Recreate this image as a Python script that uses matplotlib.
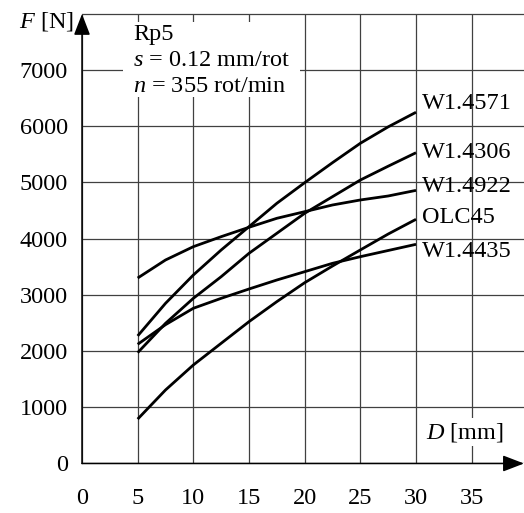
import matplotlib
matplotlib.use("Agg")
import matplotlib.pyplot as plt
from matplotlib.patches import Rectangle

plt.rcParams["font.family"] = ["Liberation Serif", "DejaVu Serif"]
plt.rcParams["mathtext.fontset"] = "custom"
plt.rcParams["mathtext.rm"] = "Liberation Serif"
plt.rcParams["mathtext.it"] = "Liberation Serif:italic"

# -- data --
D = [5, 7.5, 10, 12.5, 15, 17.5, 20, 22.5, 25, 27.5, 30]
F_w14571 = [2270, 2850, 3354, 3799, 4214, 4630, 4997, 5353, 5698, 5990, 6250]
F_w14306 = [1972, 2494, 2939, 3324, 3740, 4096, 4452, 4748, 5044, 5290, 5530]
F_w14922 = [3300, 3621, 3858, 4036, 4203, 4363, 4481, 4600, 4689, 4760, 4860]
F_olc45 = [790, 1308, 1753, 2139, 2524, 2880, 3217, 3514, 3800, 4083, 4345]
F_w14435 = [2121, 2470, 2762, 2939, 3105, 3265, 3413, 3562, 3680, 3790, 3900]

series = [
    ("W1.4571", F_w14571, 6400),
    ("W1.4306", F_w14306, 5540),
    ("W1.4922", F_w14922, 4920),
    ("OLC45", F_olc45, 4370),
    ("W1.4435", F_w14435, 3770),
]

x_ticks = [0, 5, 10, 15, 20, 25, 30, 35]
y_ticks = [0, 1000, 2000, 3000, 4000, 5000, 6000, 7000]

FS = 17.5
GRID_C = "0.25"

fig = plt.figure(figsize=(5.24, 5.13), dpi=100)
ax = fig.add_axes([0.1565, 0.0965, 0.8435, 0.8764])
ax.set_xlim(0, 39.7)
ax.set_ylim(0, 8000)

for s in ax.spines.values():
    s.set_visible(False)

ax.set_xticks(x_ticks)
ax.set_yticks(y_ticks)
ax.tick_params(axis="both", length=0, labelsize=FS)
ax.tick_params(axis="x", pad=18)
ax.tick_params(axis="y", pad=10)
ax.grid(True, color=GRID_C, linewidth=0.9, zorder=1)
ax.set_axisbelow(True)
ax.axhline(8000, color=GRID_C, linewidth=0.9, clip_on=False, zorder=1)

# white box behind the cutting parameters
ax.add_patch(Rectangle((3.7, 6520), 15.9, 1330, facecolor="white",
                       edgecolor="none", zorder=2))
ax.text(4.6, 7640, "Rp5", fontsize=FS, va="center", ha="left", zorder=3)
ax.text(4.6, 7170, r"$s$ = 0.12 mm/rot", fontsize=FS, va="center", ha="left", zorder=3)
ax.text(4.6, 6710, r"$n$ = 355 rot/min", fontsize=FS, va="center", ha="left", zorder=3)

for name, vals, ylab in series:
    ax.plot(D, vals, color="black", linewidth=2.0, solid_joinstyle="round",
            solid_capstyle="butt", zorder=4)
    ax.text(30.5, ylab, name, fontsize=FS, va="center", ha="left", zorder=5)

# axes with arrows
arrow = dict(arrowstyle="-|>,head_length=13,head_width=5", color="black",
             linewidth=1.1, shrinkA=0, shrinkB=0, mutation_scale=1)
ax.annotate("", xy=(0, 8000), xytext=(0, 0), arrowprops=arrow,
            annotation_clip=False, zorder=6)
ax.annotate("", xy=(39.7, 0), xytext=(0, 0), arrowprops=arrow,
            annotation_clip=False, zorder=6)

ax.text(34.4, 560, r"$D$ [mm]", fontsize=FS, va="center", ha="center", zorder=5,
        bbox=dict(facecolor="white", edgecolor="none", pad=2))
fig.text(0.141, 0.958, r"$F$ [N]", fontsize=FS, va="center", ha="right")

fig.savefig("out.png", dpi=100)
